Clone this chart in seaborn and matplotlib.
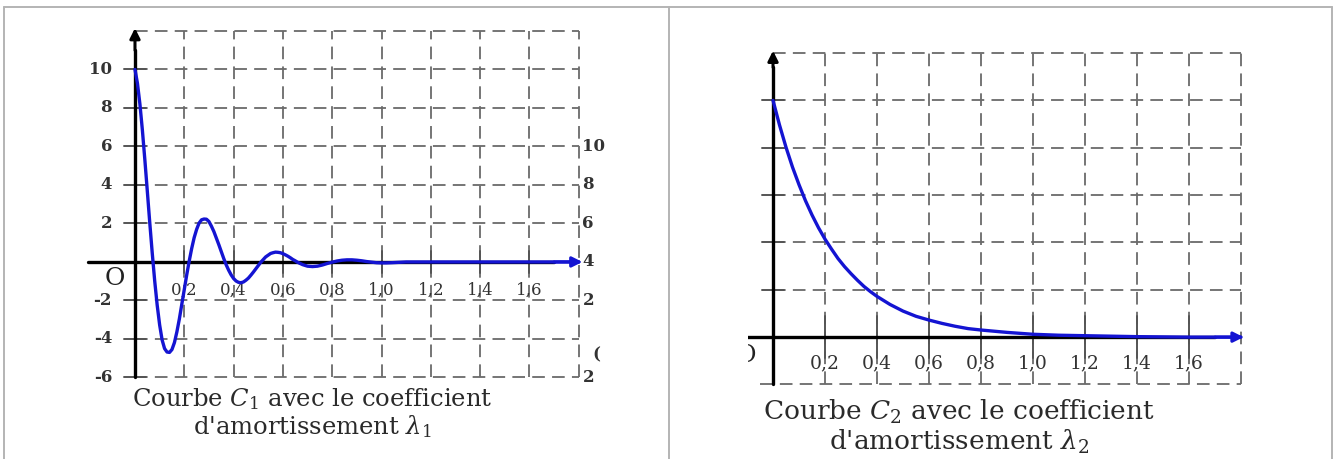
import matplotlib
matplotlib.use("Agg")
import matplotlib.pyplot as plt
from matplotlib.lines import Line2D
import pandas as pd
import seaborn as sns

# ── DATA ────────────────────────────────────────────────────
# curve C1 : damped oscillation
t1 = [0.00, 0.01, 0.02, 0.03, 0.04, 0.05, 0.06, 0.07, 0.08, 0.09,
      0.10, 0.11, 0.12, 0.13, 0.14, 0.15, 0.16, 0.17, 0.18, 0.19,
      0.20, 0.21, 0.22, 0.23, 0.24, 0.25, 0.26, 0.27, 0.28, 0.29,
      0.30, 0.31, 0.32, 0.33, 0.34, 0.35, 0.36, 0.37, 0.38, 0.39,
      0.40, 0.41, 0.42, 0.43, 0.44, 0.45, 0.46, 0.47, 0.48, 0.49,
      0.50, 0.51, 0.52, 0.53, 0.54, 0.55, 0.56, 0.57, 0.58, 0.59,
      0.60, 0.61, 0.62, 0.63, 0.64, 0.65, 0.66, 0.67, 0.68, 0.69,
      0.70, 0.71, 0.72, 0.73, 0.74, 0.76, 0.78, 0.80, 0.82, 0.84,
      0.86, 0.88, 0.90, 0.92, 0.94, 0.96, 0.98, 1.00, 1.02, 1.04,
      1.07, 1.10, 1.20, 1.40, 1.60, 1.80]
y1 = [10.0, 9.28, 8.20, 6.85, 5.31, 3.68, 2.03, 0.46, -0.99, -2.24,
      -3.27, -4.05, -4.50, -4.68, -4.70, -4.55, -4.19, -3.63, -2.96, -2.19,
      -1.43, -0.66, 0.05, 0.70, 1.26, 1.69, 2.02, 2.19, 2.23, 2.22,
      2.10, 1.86, 1.58, 1.24, 0.90, 0.54, 0.18, -0.15, -0.43, -0.67,
      -0.86, -0.99, -1.06, -1.08, -1.04, -0.95, -0.84, -0.69, -0.53, -0.36,
      -0.19, -0.02, 0.12, 0.26, 0.35, 0.44, 0.48, 0.51, 0.50, 0.48,
      0.43, 0.37, 0.30, 0.22, 0.13, 0.06, -0.02, -0.08, -0.14, -0.18,
      -0.22, -0.23, -0.24, -0.23, -0.22, -0.16, -0.08, -0.01, 0.05, 0.09,
      0.11, 0.11, 0.09, 0.06, 0.02, -0.01, -0.04, -0.05, -0.05, -0.04,
      -0.02, 0.0, 0.0, 0.0, 0.0, 0.0]

# curve C2 : aperiodic decay
t2 = [0.000, 0.025, 0.050, 0.075, 0.100, 0.125, 0.150, 0.175, 0.200, 0.225,
      0.250, 0.275, 0.300, 0.325, 0.350, 0.375, 0.40, 0.45, 0.50, 0.55,
      0.60, 0.65, 0.70, 0.75, 0.80, 0.90, 1.00, 1.10, 1.20, 1.40,
      1.60, 1.80]
y2 = [5.00, 4.48, 4.01, 3.59, 3.22, 2.88, 2.58, 2.31, 2.07, 1.86,
      1.66, 1.49, 1.34, 1.20, 1.07, 0.96, 0.86, 0.69, 0.55, 0.44,
      0.36, 0.29, 0.23, 0.18, 0.15, 0.10, 0.06, 0.04, 0.03, 0.01,
      0.0, 0.0]

grid_x = [0.2, 0.4, 0.6, 0.8, 1.0, 1.2, 1.4, 1.6, 1.8]
x_tick_labels = ["0,2", "0,4", "0,6", "0,8", "1,0", "1,2", "1,4", "1,6"]
y1_ticks = [-6, -4, -2, 2, 4, 6, 8, 10]
y1_tick_labels = ["-6", "-4", "-2", "2", "4", "6", "8", "10"]
grid_y1 = [-6, -4, -2, 2, 4, 6, 8, 10, 12]
grid_y2 = [-1, 1, 2, 3, 4, 5, 6]
# labels of the neighbouring (cropped) figure seen at the right of panel 1
stray_labels = ["10", "8", "6", "4", "2", "(", "2"]

captions1 = [r"Courbe $C_1$ avec le coefficient", r"d'amortissement $\lambda_1$"]
captions2 = [r"Courbe $C_2$ avec le coefficient", r"d'amortissement $\lambda_2$"]

# ── STYLE ───────────────────────────────────────────────────
sns.set_theme(style="white")
plt.rcParams['font.family'] = ['DejaVu Serif']
plt.rcParams['mathtext.fontset'] = 'dejavuserif'

W, H = 1336, 459
GRID = dict(color="#6a6a6a", lw=1.3, linestyle=(0, (7, 4)), zorder=1)
TICK = dict(color="#555555", lw=1.4, zorder=2)
BLUE = "#1414d2"
TXT = "#2a2a2a"

fig = plt.figure(figsize=(W / 100, H / 100), dpi=100)
fig.patch.set_facecolor("white")


def px_axes(left, right, top, bottom):
    """axes placed with pixel edges of the 1336x459 canvas"""
    ax = fig.add_axes([left / W, 1 - bottom / H, (right - left) / W, (bottom - top) / H])
    ax.set_axis_off()
    return ax


def arrow(ax, start, end, color, lw=2.2):
    ax.annotate("", xy=end, xytext=start,
                arrowprops=dict(arrowstyle="-|>", color=color, lw=lw,
                                mutation_scale=15, shrinkA=0, shrinkB=0),
                zorder=4)


# table borders
for xs, ys in [([4, 1332], [7, 7]), ([4, 4], [7, 459]),
               ([1332, 1332], [7, 459]), ([669, 669], [7, 459])]:
    fig.add_artist(Line2D([x / W for x in xs], [1 - y / H for y in ys],
                          color="#b4b4b4", lw=1.4))

# ── PANEL 1 ─────────────────────────────────────────────────
ax1 = px_axes(10, 665, 10, 455)
ax1.set_xlim(-0.507, 2.150)
ax1.set_ylim(-10.03, 13.09)

for v in grid_y1:
    ax1.plot([0, 1.8], [v, v], **GRID)
for v in grid_x:
    ax1.plot([v, v], [-6, 12], **GRID)
for v in y1_ticks:
    ax1.plot([-0.045, 0.045], [v, v], **TICK)
for v in grid_x[:-1]:
    ax1.plot([v, v], [-0.55, 0.55], **TICK)

ax1.plot([0, 0], [-6, 11], color="black", lw=2.4, zorder=3)
arrow(ax1, (0, 11), (0, 12.15), "black")
ax1.plot([-0.19, 1.7], [0, 0], color="black", lw=2.4, zorder=3)

df1 = pd.DataFrame({"t": t1, "y": y1})
sns.lineplot(data=df1, x="t", y="y", ax=ax1, color=BLUE, lw=2.4,
             sort=False, legend=False, zorder=5)
arrow(ax1, (1.7, 0), (1.815, 0), BLUE)

for v, lab in zip(y1_ticks, y1_tick_labels):
    ax1.text(-0.093, v, lab, ha="right", va="center", fontsize=12,
             fontweight="bold", color="#333333")
for v, lab in zip(grid_x, x_tick_labels):
    ax1.text(v, -1.45, lab, ha="center", va="center", fontsize=12,
             color="#333333")
ax1.text(-0.081, -0.85, "O", ha="center", va="center", fontsize=18, color="#222222")

for lab, v in zip(stray_labels, [6, 4, 2, 0, -2, -4.85, -6]):
    ax1.text(1.815 if lab != "(" else 1.855, v, lab, ha="left", va="center",
             fontsize=12, fontweight="bold", color="#333333")

for i, line in enumerate(captions1):
    ax1.text(0.72, -7.1 - 1.45 * i, line, ha="center", va="center",
             fontsize=17.5, color=TXT)

# ── PANEL 2 ─────────────────────────────────────────────────
ax2 = px_axes(748, 1325, 10, 455)
ax2.set_xlim(-0.0962, 2.123)
ax2.set_ylim(-2.49, 6.91)

for v in grid_y2:
    ax2.plot([-0.05 if v == -1 else 0, 1.8], [v, v], **GRID)
for v in grid_x:
    ax2.plot([v, v], [-1, 6], **GRID)
for v in grid_y2[1:-1]:
    ax2.plot([-0.042, 0.042], [v, v], **TICK)
for v in grid_x[:-1]:
    ax2.plot([v, v], [-0.45, 0.45], **TICK)

ax2.plot([0, 0], [-1, 5.7], color="black", lw=2.4, zorder=3)
arrow(ax2, (0, 5.7), (0, 6.05), "black")
ax2.plot([-0.1, 1.7], [0, 0], color="black", lw=2.4, zorder=3)

df2 = pd.DataFrame({"t": t2, "y": y2})
sns.lineplot(data=df2, x="t", y="y", ax=ax2, color=BLUE, lw=2.4,
             sort=False, legend=False, zorder=5)
arrow(ax2, (1.7, 0), (1.81, 0), BLUE)

for v, lab in zip(grid_x, x_tick_labels):
    ax2.text(v, -0.55, lab, ha="center", va="center", fontsize=13.5,
             color="#333333")
# half of the origin letter, cut by the crop
ax2.text(-0.104, -0.38, "O", ha="center", va="center", fontsize=17,
         color="#222222", clip_on=True)

for i, line in enumerate(captions2):
    ax2.text(0.715, -1.58 - 0.63 * i, line, ha="center", va="center",
             fontsize=19, color=TXT)

plt.savefig("out.png", dpi=100)
plt.close()
